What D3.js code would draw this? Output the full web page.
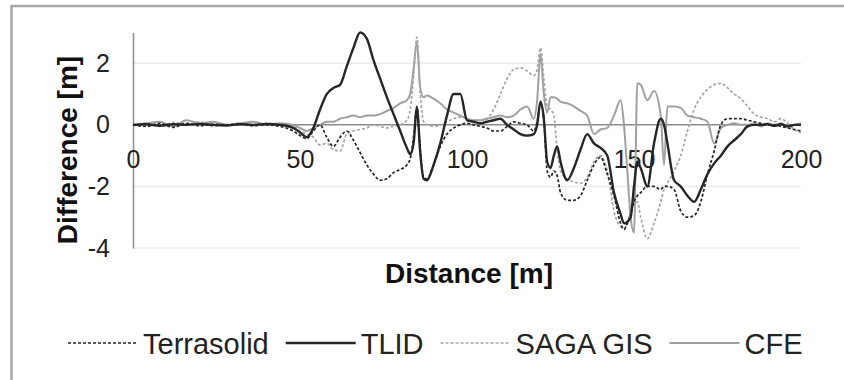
<!DOCTYPE html>
<html>
<head>
<meta charset="utf-8">
<script src="https://cdn.jsdelivr.net/npm/d3@7"></script>
<style>
    body { margin: 0; background: #fff; }
    svg { display: block; font-family: "Liberation Sans", Arial, sans-serif; }
</style>
</head>
<body>
<svg width="844" height="380"></svg>
<script>
(function(d3) {
    'use strict';

    // distance along the profile [m]
    const distance = [0, 4, 8, 12, 16, 20, 24, 28, 32, 36, 40, 44,
        48, 50, 52, 54, 56, 58, 60, 62, 64, 66, 68, 70, 72, 74, 76, 78, 80, 82,
        83, 84, 85, 86, 87, 88,
        90, 92, 94, 96, 98, 100, 102, 104, 106, 108, 110, 112, 114, 116, 118, 120,
        121, 122, 123, 124, 125, 126, 127, 128,
        130, 132, 134, 136, 138, 140, 142, 144, 146,
        147, 148, 149, 150, 151, 152,
        154, 156, 158, 159, 160,
        162, 164, 166, 168, 170, 172, 174, 176, 178, 180, 182, 184, 186, 188, 190, 192, 194, 196, 198, 200];

    const terrasolid = [0, -0.05, 0.05, -0.08, 0.05, -0.03, 0.02, 0, 0.03, -0.02, 0, -0.05,
        -0.2, -0.35, -0.45, -0.2, 0, -0.4, -0.7, -0.4, -0.2, -0.5, -0.9, -1.3, -1.6, -1.8, -1.75, -1.55, -1.45, -1.3,
        -1.1, -0.4, 0.6, -0.8, -1.7, -1.75,
        -1.3, -0.7, -0.3, -0.1, 0, 0.05, 0, -0.05, -0.1, -0.2, -0.2, -0.05, 0.1, 0.05, 0, -0.2,
        0.1, 0.7, 0.2, -1.5, -1.7, -1.5, -1.65, -2.2,
        -2.45, -2.45, -2.3, -1.8, -1.3, -1.05, -1.6, -2.3, -3.2,
        -3.4, -3.2, -2.9, -2.5, -2.3, -2.2,
        -2.0, -2.0, -2.1, -2.0, -2.0,
        -2.1, -2.8, -3.0, -2.95, -2.5, -1.6, -0.85, 0.0, 0.2, 0.2, 0.2, 0.15, 0.1, 0.05, 0, 0, -0.05, -0.1, -0.15, -0.2];

    const tlid = [0, 0.02, -0.03, 0.02, 0, 0.03, 0, -0.02, 0.02, 0, 0.03, 0,
        -0.1, -0.25, -0.4, -0.1, 0.5, 1.0, 1.2, 1.3, 1.9, 2.5, 3.0, 2.8, 2.1, 1.5, 0.9, 0.35, -0.2, -0.75,
        -0.95, -0.6, 0.55, -0.9, -1.75, -1.8,
        -1.3, -0.6, 0.3, 1.0, 1.0, 0.15, 0.1, 0.05, 0.1, 0.15, 0.2, 0.0, -0.15, -0.3, -0.35, -0.3,
        0.0, 0.75, 0.2, -1.2, -1.4, -1.0, -0.7, -1.2,
        -1.8, -1.4, -0.8, -0.3, -0.6, -0.75, -1.0, -2.2, -2.9,
        -3.2, -3.15, -3.0, -2.0, -1.2, -1.4,
        -2.0, -0.6, 0.2, 0.0, -0.6,
        -1.8, -2.0, -2.3, -2.5, -2.1, -1.6, -1.25, -1.0, -0.7, -0.5, -0.3, -0.05, 0.0, 0.0, 0.02, -0.03, 0.02, -0.05, 0.0, 0.0];

    const sagaGis = [0, 0.05, -0.05, 0.08, 0, 0.1, -0.05, 0, 0.05, -0.05, 0.05, 0,
        -0.05, -0.2, -0.3, -0.4, -0.65, -0.6, -0.8, -0.85, -0.3, -0.2, -0.15, -0.1, 0, -0.05, -0.1, -0.05, 0, 0.15,
        0.5, 1.6, 2.85, 1.0, 0.1, 0,
        -0.05, 0, 0.1, 0.2, 0.25, 0.2, 0.1, 0.05, 0.2, 0.5, 1.0, 1.5, 1.8, 1.85, 1.75, 1.6,
        1.8, 2.5, 1.5, 0.6, 0.5, 0.3, -0.8, -1.5,
        -1.75, -1.85, -1.9, -1.7, -1.2, -1.0, -1.5, -2.8, -3.3,
        -3.35, -3.2, -2.8, -2.5, -2.5, -3.0,
        -3.7, -3.2, -2.5, -2.1, -1.9,
        -1.5, -1.0, -0.2, 0.5, 0.9, 1.15, 1.3, 1.35, 1.2, 1.0, 0.85, 0.6, 0.35, 0.25, 0.2, 0.1, 0.2, 0.05, -0.15, -0.25];

    const cfe = [0, 0.05, 0.1, -0.05, 0.15, 0.05, 0.1, 0, 0.05, 0.1, 0, 0.05,
        0, -0.1, -0.2, -0.1, 0, 0.1, 0.1, 0.2, 0.25, 0.3, 0.25, 0.3, 0.3, 0.35, 0.45, 0.55, 0.7, 0.8,
        1.0, 1.8, 2.7, 1.2, 0.9, 0.95,
        0.85, 0.7, 0.5, 0.4, 0.3, 0.2, 0.15, 0.15, 0.2, 0.25, 0.3, 0.25, 0.3, 0.5, 0.6, 0.2,
        0.8, 2.3, 1.0, 0.4, 0.9, 0.9, 0.85, 0.75,
        0.7, 0.6, 0.45, 0.3, -0.3, -0.15, -0.1, 0.3, 0.8,
        0.0, -1.5, -3.0, -3.5, 1.35, 1.3,
        0.8, 1.1, 0.3, -1.3, 0.6,
        0.6, 0.55, 0.3, 0.25, 0.2, 0.1, -0.6, -0.1, 0.0, 0.05, 0, 0, 0.05, -0.05, 0.05, 0, 0.05, -0.05, 0, 0.05];

    const seriesNames = ['Terrasolid', 'TLID', 'SAGA GIS', 'CFE'];
    const xTicks = [0, 50, 100, 150, 200];
    const yTicks = [-4, -2, 0, 2];

    const styles = {
        'Terrasolid': { color: '#262626', width: 1.7, dash: '3,2' },
        'TLID': { color: '#262626', width: 2.4, dash: null },
        'SAGA GIS': { color: '#a6a6a6', width: 1.7, dash: '3,2' },
        'CFE': { color: '#a0a0a0', width: 2, dash: null }
    };

    const values = [terrasolid, tlid, sagaGis, cfe];
    const series = seriesNames.map((name, i) => ({
        name,
        points: distance.map((d, j) => ({ x: d, y: values[i][j] }))
    }));

    const svg = d3.select('svg');

    // chart frame
    svg.append('rect')
        .attr('x', 11.5)
        .attr('y', 6)
        .attr('width', 850)
        .attr('height', 390)
        .attr('fill', 'none')
        .attr('stroke', '#a6a6a6')
        .attr('stroke-width', 2.5);

    const xScale = d3.scaleLinear().domain([0, 200]).range([133, 801]);
    const yScale = d3.scaleLinear().domain([-4, 3]).range([248, 32.5]);

    // gridlines
    svg.append('g')
        .selectAll('line')
        .data(yTicks.filter(d => d !== 0))
        .enter().append('line')
        .attr('x1', xScale(0))
        .attr('x2', xScale(200))
        .attr('y1', d => yScale(d))
        .attr('y2', d => yScale(d))
        .attr('stroke', '#ebebeb')
        .attr('stroke-width', 1.5);

    // y axis
    const yAxisG = svg.append('g')
        .attr('transform', `translate(${xScale(0)},0)`)
        .call(d3.axisLeft(yScale).tickValues(yTicks).tickSize(0).tickPadding(23).tickFormat(d => String(d)));
    yAxisG.select('.domain').attr('stroke', '#8c8c8c').attr('stroke-width', 1.5);
    yAxisG.selectAll('text')
        .attr('font-size', 25)
        .attr('font-family', '"Liberation Sans", Arial, sans-serif')
        .attr('fill', '#222');

    const line = d3.line()
        .curve(d3.curveMonotoneX)
        .x(d => xScale(d.x))
        .y(d => yScale(d.y));

    // x axis labels under the zero line
    const xAxisG = svg.append('g')
        .attr('transform', `translate(0,${yScale(0)})`)
        .call(d3.axisBottom(xScale).tickValues(xTicks).tickSize(0).tickPadding(25).tickFormat(d => String(d)));
    xAxisG.select('.domain').remove();
    xAxisG.selectAll('text')
        .attr('font-size', 25)
        .attr('font-family', '"Liberation Sans", Arial, sans-serif')
        .attr('fill', '#222');

    svg.append('line')
        .attr('x1', xScale(0))
        .attr('x2', xScale(200))
        .attr('y1', yScale(0))
        .attr('y2', yScale(0))
        .attr('stroke', '#8c8c8c')
        .attr('stroke-width', 1.5);

    svg.append('g')
        .selectAll('path')
        .data(series.slice().reverse())
        .enter().append('path')
        .attr('d', d => line(d.points))
        .attr('fill', 'none')
        .attr('stroke', d => styles[d.name].color)
        .attr('stroke-width', d => styles[d.name].width)
        .attr('stroke-dasharray', d => styles[d.name].dash)
        .attr('stroke-linejoin', 'round');

    // axis titles
    svg.append('text')
        .attr('transform', 'translate(77,150) rotate(-90)')
        .attr('text-anchor', 'middle')
        .attr('font-size', 28)
        .attr('font-weight', 'bold')
        .attr('fill', '#111')
        .text('Difference [m]');

    svg.append('text')
        .attr('x', 469)
        .attr('y', 283)
        .attr('text-anchor', 'middle')
        .attr('font-size', 28)
        .attr('font-weight', 'bold')
        .attr('fill', '#111')
        .text('Distance [m]');

    // legend
    const legendG = svg.append('g').attr('transform', 'translate(68,343)');
    let cursor = 0;
    seriesNames.forEach(name => {
        const s = styles[name];
        const item = legendG.append('g').attr('transform', `translate(${cursor},0)`);
        item.append('line')
            .attr('x1', 0)
            .attr('x2', 70)
            .attr('stroke', s.color)
            .attr('stroke-width', s.width)
            .attr('stroke-dasharray', s.dash);
        const label = item.append('text')
            .attr('x', 75)
            .attr('y', 10.5)
            .attr('font-size', 29)
            .attr('fill', '#222')
            .text(name);
        cursor += 75 + label.node().getComputedTextLength() + 17;
    });

}(d3));
</script>
</body>
</html>
